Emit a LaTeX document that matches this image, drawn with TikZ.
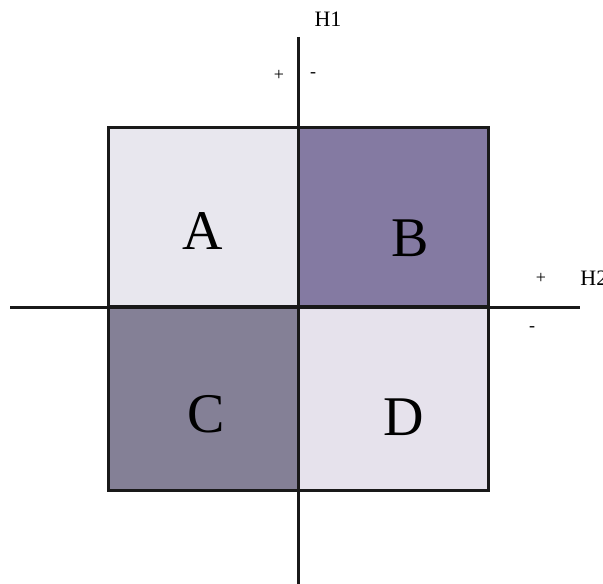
\documentclass[tikz,border=0pt]{standalone}
\usepackage{fontspec}
\setmainfont{Liberation Serif}
\usetikzlibrary{positioning}
\definecolor{quadlight}{RGB}{232,231,238}
\definecolor{quadpale}{RGB}{230,226,236}
\definecolor{quadpurple}{RGB}{132,122,162}
\definecolor{quadgrey}{RGB}{132,128,150}
\tikzset{
  quad/.style   = {draw=black!90, line width=1.5pt, rectangle, inner sep=0pt,
                   outer sep=0pt, minimum width=95pt},
  letter/.style = {font=\fontsize{28}{30}\selectfont},
  axis/.style   = {draw=black!90, line width=1.5pt},
  lbl/.style    = {font=\fontsize{11}{13}\selectfont, inner sep=0pt},
  sgn/.style    = {font=\fontsize{9}{11}\selectfont, inner sep=0pt}
}

\begin{document}
\begin{tikzpicture}[x=0.5pt, y=-0.5pt]
  \clip (0,0) rectangle (603,583);

  % ── Quadrants ─────────────────────────────────────────────────────────────
  \node[quad, fill=quadlight,  minimum height=89.5pt, anchor=north west] (qA) at (108,127) {};
  \node[quad, fill=quadpurple, minimum height=89.5pt, right=0pt of qA]   (qB) {};
  \node[quad, fill=quadgrey,   minimum height=92pt,   below=0pt of qA]   (qC) {};
  \node[quad, fill=quadpale,   minimum height=92pt,   right=0pt of qC]   (qD) {};

  % ── Quadrant letters ──────────────────────────────────────────────────────
  \node[letter] (lA) at (203,231) {A};
  \node[letter] (lB) at (410,238) {B};
  \node[letter] (lC) at (206,414) {C};
  \node[letter] (lD) at (404,417) {D};

  % ── Axes ──────────────────────────────────────────────────────────────────
  \coordinate (H1top) at (298,37);
  \coordinate (H1bot) at (298,590);
  \coordinate (H2lft) at (10,307);
  \coordinate (H2rgt) at (580,307);
  \draw[axis] (H1top) -- (H1bot);
  \draw[axis] (H2lft) -- (H2rgt);

  % ── Axis labels and signs ─────────────────────────────────────────────────
  \node[lbl] (nH1) at (328,19.5) {H1};
  \node[sgn] (pH1) at (279,75) {+};
  \node[sgn] (mH1) at (313,75) {-};
  \node[lbl, anchor=west] (nH2) at (580,278.5) {H2};
  \node[sgn] (pH2) at (541,278) {+};
  \node[sgn] (mH2) at (532,329) {-};

\end{tikzpicture}
\end{document}
